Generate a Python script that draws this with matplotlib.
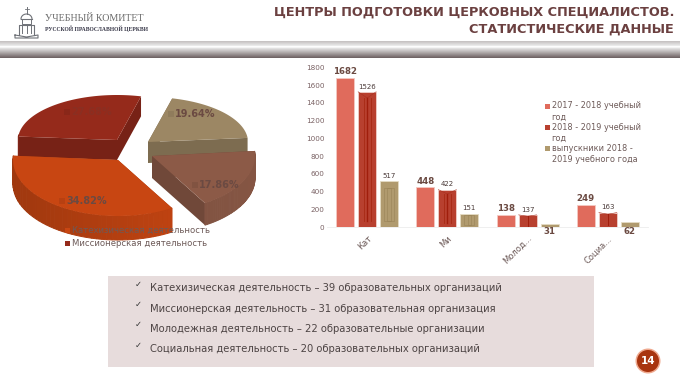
import numpy as np
import matplotlib
matplotlib.use("Agg")
import matplotlib.pyplot as plt
from matplotlib.patches import Polygon, Rectangle, Circle
from matplotlib.colors import to_rgb

# ---------- data ----------
categories = ["Кат", "Ми", "Молод...", "Социа..."]
series_names = ["2017 - 2018 учебный\nгод", "2018 - 2019 учебный\nгод", "выпускники 2018 -\n2019 учебного года"]
values_2017 = [1682, 448, 138, 249]
values_2018 = [1526, 422, 137, 163]
values_grad = [517, 151, 31, 62]
yticks = [0, 200, 400, 600, 800, 1000, 1200, 1400, 1600, 1800]

pie_names = ["Катехизическая деятельность", "Миссионерская деятельность"]
pie_values = [39, 31, 22, 20]
org_lines = ["Катехизическая деятельность – 39 образовательных организаций",
             "Миссионерская деятельность – 31 образовательная организация",
             "Молодежная деятельность – 22 образовательные организации",
             "Социальная деятельность – 20 образовательных организаций"]
title_lines = ["ЦЕНТРЫ ПОДГОТОВКИ ЦЕРКОВНЫХ СПЕЦИАЛИСТОВ.", "СТАТИСТИЧЕСКИЕ ДАННЫЕ"]
page_number = "14"

W, H = 680, 378
fig = plt.figure(figsize=(W/100, H/100), dpi=100, facecolor="white")
bg = fig.add_axes([0, 0, 1, 1])
bg.set_xlim(0, W); bg.set_ylim(H, 0); bg.axis("off")

# ---------- header ----------
ys = np.linspace(41, 58, 68)
top = np.array(to_rgb("#c4c0c0")); mid = np.array(to_rgb("#eeeeee")); low = np.array(to_rgb("#6b5f60"))
rows = []
for y in ys:
    if y < 46:
        rows.append(top+(mid-top)*(y-41)/5)
    elif y < 47.5:
        rows.append(np.ones(3))
    else:
        rows.append(mid+(low-mid)*(y-47.5)/10.5)
img = np.array(rows)[:, None, :]
bg.imshow(img, extent=(0, W, 58, 41), aspect="auto", zorder=1)
bg.set_xlim(0, W); bg.set_ylim(H, 0)

logo = "#6f7278"
bg.plot([26.5, 26.5], [7, 14], color=logo, lw=0.7)
bg.plot([24.5, 28.5], [9, 9], color=logo, lw=0.6)
t = np.linspace(0, np.pi, 20)
bg.plot(26.5+5.5*np.cos(t), 19-5*np.sin(t), color=logo, lw=0.8)
bg.plot([21, 32], [19, 19], color=logo, lw=0.8)
bg.plot([22, 22, 31, 31], [19, 24, 24, 19], color=logo, lw=0.7)
bg.plot([19, 19, 34, 34], [35, 25, 25, 35], color=logo, lw=0.8)
for x in (22, 26.5, 31):
    bg.plot([x, x], [26, 33], color=logo, lw=0.7)
bg.plot([15, 26.5, 38, 38, 15, 15], [35, 37, 35, 38, 38, 35], color=logo, lw=0.8)
bg.text(45, 18.5, "УЧЕБНЫЙ КОМИТЕТ", family="Liberation Serif", fontsize=7.2, color="#6a6a6a", va="center")
bg.text(45, 28.5, "РУССКОЙ ПРАВОСЛАВНОЙ ЦЕРКВИ", family="Liberation Serif", fontsize=4.05, weight="bold", color="#333344", va="center")
for y, s in zip((12.5, 29), title_lines):
    bg.text(674, y, s, ha="right", va="center", fontsize=9.27, weight="bold", color="#6b4040")

# ---------- pie ----------
colors = ["#C84612", "#952A1B", "#9C8764", "#8C5A47"]
apex = [(118, 160), (117, 140), (148, 142), (152, 156)]
radii_x = [105, 99, 100, 103]
radii_y = [56, 45, 45, 55]
depths = [24, 20, 21, 22]
wall = [(0.80, 1.0), (0.86, 0.9), (0.88, 0.92), (0.85, 0.95)]
pie_vals = np.array(pie_values, float)
fracs = pie_vals/pie_vals.sum()
spans = fracs*360
start = 175.6
ang0 = [start+spans[0], start, start-spans[1], start-spans[1]-spans[2]]
ang1 = [start, start-spans[1], start-spans[1]-spans[2], start-spans[1]-spans[2]-spans[3]]

def arc(i, a0, a1, n=80):
    cx, cy = apex[i]
    th = np.radians(np.linspace(a0, a1, n))
    return np.c_[cx+radii_x[i]*np.cos(th), cy-radii_y[i]*np.sin(th)]

def shade(c, f):
    return tuple(min(1, v*f) for v in to_rgb(c))

def draw_slice(i, z):
    col = colors[i]; d = [0, depths[i]]
    a0, a1 = ang0[i], ang1[i]
    ap = np.array([apex[i]], float)
    for an in (a0, a1):
        e = arc(i, an, an, 1)
        bg.add_patch(Polygon(np.r_[ap, e, e+d, ap+d], closed=True, fc=shade(col, 0.80), ec="none", zorder=z))
    th = np.linspace(a0, a1, 45)
    lo, hi = wall[i]
    for p, q in zip(th[:-1], th[1:]):
        mid_a = np.radians((p+q)/2)
        if np.sin(mid_a) > 0.1:
            continue
        u = arc(i, p, q, 3)
        f = lo+(hi-lo)*(1+np.cos(mid_a))/2
        bg.add_patch(Polygon(np.r_[u, (u+d)[::-1]], closed=True, fc=shade(col, f), ec=shade(col, f), lw=0.7, zorder=z))
    bg.add_patch(Polygon(np.r_[ap, arc(i, a0, a1)], closed=True, fc=col, ec="none", zorder=z+0.5))

for i, z in zip((1, 2, 3, 0), (3, 4, 5, 6)):
    draw_slice(i, z)

lab_xy = [(66, 201), (71, 112), (175, 114), (199, 185)]
for i, (x, y) in enumerate(lab_xy):
    bg.add_patch(Rectangle((x-7, y-3), 5.5, 5.5, fc=shade(colors[i], 0.92), ec="none", zorder=7))
    bg.text(x, y, f"{fracs[i]*100:.2f}%", fontsize=7, weight="bold", color="#6b4a42" if i != 1 else "#8a2f22",
            va="center", zorder=8)
for y, name, c in zip((230.5, 243), pie_names, colors):
    bg.add_patch(Rectangle((65, y-2.5), 5, 5, fc=c, ec="none", zorder=8))
    bg.text(72.5, y, name, fontsize=6.1, color="#6d5a58", va="center", zorder=8)

# ---------- bars ----------
ax = fig.add_axes([327/W, 1-227/H, (648-327)/W, (227-67.5)/H])
ax.patch.set_alpha(0)
x = np.arange(len(categories))
bw, off = 18/80.3, 22/80.3
bar_cols = ["#E06B5C", "#B8402F", "#B09A6E"]
edge_cols = ["#F4C9C2", "#F0D0CA", "#E5DCC5"]
all_vals = [values_2017, values_2018, values_grad]
for k, vals in enumerate(all_vals):
    ax.bar(x+(k-1)*off, vals, bw, color=bar_cols[k], edgecolor=edge_cols[k], linewidth=0.6, zorder=2)
# inner relief of the textured columns
for xi, v in zip(x, all_vals[1]):
    cx = xi
    m = min(70, v*0.12)
    ax.plot([cx-bw/2, cx, cx+bw/2], [v, v-m, v], color="#A83020", lw=0.4, zorder=3)
    ax.plot([cx, cx], [m, v-m], color="#A01E0C", lw=1.0 if v > 300 else 0.7, zorder=3)
    if v > 300:
        for dx in (-bw*0.2, bw*0.2):
            ax.plot([cx+dx, cx+dx], [m, v-m], color="#A82A14", lw=0.6, zorder=3)
for xi, v in zip(x, all_vals[2]):
    if v < 100:
        continue
    cx = xi+off
    m = v*0.14
    for w in (bw*0.55, bw*0.2):
        ax.add_patch(Rectangle((cx-w/2, m), w, v-2*m, fc="none", ec="#9A8358", lw=0.4, zorder=3))
ax.set_xlim(-0.5, 3.5); ax.set_ylim(0, 1800)
ax.set_yticks(yticks)
ax.set_xticks(x)
ax.set_xticklabels(categories, rotation=45, ha="right", rotation_mode="anchor", fontsize=6.0, color="#6d5a58")
ax.tick_params(axis="y", length=0, labelsize=5.2, labelcolor="#7a6264", pad=2)
ax.tick_params(axis="x", length=0, pad=5)
for s in ("top", "right", "left"):
    ax.spines[s].set_visible(False)
ax.spines["bottom"].set_color("#ececec"); ax.spines["bottom"].set_linewidth(0.6)

for xi, v in zip(x, values_2017):
    ax.text(xi-off, v+20, str(v), ha="center", va="bottom", fontsize=6.2, weight="bold", color="#6b4a42")
for xi, v in zip(x, values_2018):
    ax.text(xi, v+25, str(v), ha="center", va="bottom", fontsize=5.0, color="#4a3a38")
for xi, v in zip(x, values_grad):
    if v > 100:
        ax.text(xi+off, v+25, str(v), ha="center", va="bottom", fontsize=5.0, color="#4a3a38")
    else:
        ax.text(xi+off, -5, str(v), ha="center", va="top", fontsize=6.2, weight="bold", color="#6b4a42")

# legend
for y, name, c in zip((106, 127.5, 148.5), series_names, bar_cols):
    bg.add_patch(Rectangle((544.5, y-2.5), 5, 5, fc=c, ec="none", zorder=8))
    bg.text(551.5, y-4.5, name, fontsize=5.9, color="#6d5a58", va="top", linespacing=1.3, zorder=8)

# ---------- box ----------
bg.add_patch(Rectangle((108, 276), 486, 91, fc="#E7DCDC", ec="none", zorder=1))
for y, s in zip((288, 308.5, 328.5, 349.5), org_lines):
    bg.text(135, y-4, "✓", fontsize=6, color="#333333", va="center", ha="left", zorder=3)
    bg.text(150, y, s, fontsize=7.2, color="#4d4444", va="center", zorder=3)

bg.add_patch(Circle((648, 361), 12.5, fc="#EFA98F", ec="none", zorder=3))
bg.add_patch(Circle((648, 361), 11, fc="#A8340F", ec="none", zorder=4))
bg.text(648, 361, page_number, color="white", fontsize=7.5, weight="bold", ha="center", va="center", zorder=5)

fig.savefig("out.png", dpi=100)
